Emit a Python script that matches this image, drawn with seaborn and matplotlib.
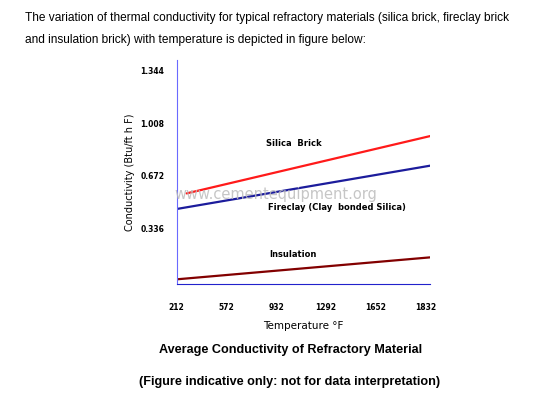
import matplotlib
matplotlib.use("Agg")
import matplotlib.pyplot as plt
import seaborn as sns
import pandas as pd

# data (x in tick-index units)
temp_labels = ["212", "572", "932", "1292", "1652", "1832"]
y_ticks = [0.336, 0.672, 1.008, 1.344]
materials = ["Silica Brick", "Fireclay", "Insulation"]
silica_x = [0.2, 5.1]
silica_y = [0.558, 0.926]
fireclay_x = [0.0, 5.1]
fireclay_y = [0.458, 0.736]
insulation_x = [0.0, 5.1]
insulation_y = [0.007, 0.148]

df = pd.concat([
    pd.DataFrame({"x": silica_x, "k": silica_y, "mat": materials[0]}),
    pd.DataFrame({"x": fireclay_x, "k": fireclay_y, "mat": materials[1]}),
    pd.DataFrame({"x": insulation_x, "k": insulation_y, "mat": materials[2]}),
])

sns.set_style("white")
plt.rcParams['font.family'] = ['DejaVu Sans']
plt.rcParams['text.color'] = 'black'
plt.rcParams['axes.labelcolor'] = 'black'
plt.rcParams['xtick.color'] = 'black'
plt.rcParams['ytick.color'] = 'black'

fig = plt.figure(figsize=(5.54, 3.95), dpi=100)
ax = fig.add_axes([0.319, 0.281, 0.458, 0.567])
sns.lineplot(data=df, x="x", y="k", hue="mat",
             palette={"Silica Brick": "#ff1a1a", "Fireclay": "#1c1c9c", "Insulation": "#820000"},
             linewidth=1.6, legend=False, ax=ax)

ax.set_xlim(0, 5.1)
ax.set_ylim(-0.023, 1.413)
ax.set_xticks(range(len(temp_labels)))
ax.set_xticklabels(temp_labels, fontsize=5.5, fontweight="bold")
ax.set_yticks(y_ticks)
ax.set_yticklabels([f"{v:.3f}" for v in y_ticks], fontsize=5.5, fontweight="bold")
ax.tick_params(axis="both", length=0)
ax.tick_params(axis="x", pad=14)
ax.tick_params(axis="y", pad=9)
for s in ["top", "right"]:
    ax.spines[s].set_visible(False)
ax.spines["left"].set_color("#6a6aff")
ax.spines["bottom"].set_color("#2222cc")
ax.set_xlabel("Temperature °F", fontsize=7.5, labelpad=6)
ax.set_ylabel("Conductivity (Btu/ft h F)", fontsize=7, labelpad=4)

# curve labels and watermark
ax.text(1.8, 0.86, "Silica  Brick", fontsize=6, fontweight="bold")
ax.text(1.83, 0.45, "Fireclay (Clay  bonded Silica)", fontsize=6, fontweight="bold")
ax.text(1.85, 0.15, "Insulation", fontsize=6, fontweight="bold")
ax.text(-0.05, 0.52, "www.cementequipment.org", fontsize=10.5, color="#bcbcbc", alpha=0.85)

# surrounding page text
fig.text(25 / 554, 1 - 18 / 395,
         "The variation of thermal conductivity for typical refractory materials (silica brick, fireclay brick",
         fontsize=8.6, family="Liberation Sans", va="center")
fig.text(25 / 554, 1 - 40.5 / 395,
         "and insulation brick) with temperature is depicted in figure below:",
         fontsize=8.6, family="Liberation Sans", va="center")
fig.text(291 / 554, 1 - 350.5 / 395, "Average Conductivity of Refractory Material",
         fontsize=9.1, family="Liberation Sans", fontweight="bold", ha="center", va="center")
fig.text(290 / 554, 1 - 382 / 395, "(Figure indicative only: not for data interpretation)",
         fontsize=9.1, family="Liberation Sans", fontweight="bold", ha="center", va="center")

fig.savefig("out.png", dpi=100)
